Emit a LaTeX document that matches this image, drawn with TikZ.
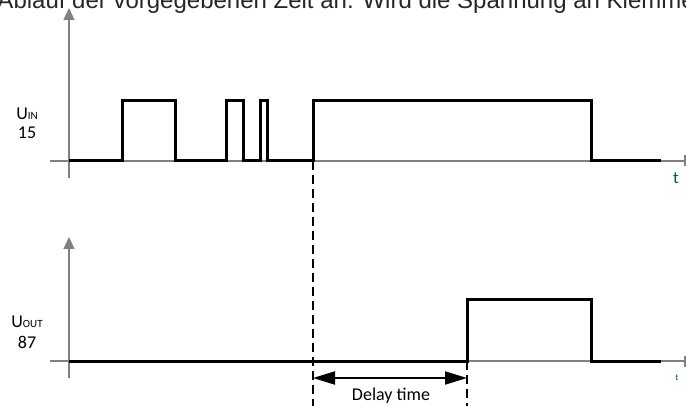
\documentclass[tikz,border=0pt]{standalone}
\usepackage{fontspec}
\setmainfont{Carlito}
\newfontfamily\introfont{Liberation Sans}
\usetikzlibrary{arrows.meta}
\definecolor{axisgray}{RGB}{128,128,128}
\definecolor{tgreen}{RGB}{0,96,48}

\begin{document}
\begin{tikzpicture}[x = 1pt, y = -1pt]
	\useasboundingbox (0, 0) rectangle (686, 406);

	% Styles for axes, signals and the delay marker
	\tikzset{
		axis/.style = {axisgray, line width = 1.2pt},
		axis arrow/.style = {axis, -{Triangle[length = 12pt, width = 11pt]}},
		axis end/.style = {axis, -{Bar[width = 11pt, line width = 2pt]}, shorten >= -1pt},
		signal/.style = {black, line width = 3pt, line join = miter},
		marker/.style = {black, line width = 1.4pt, dash pattern = on 9pt off 5pt},
		delay arrow/.style = {black, line width = 2pt, {Triangle[length = 22pt, width = 13pt]}-{Triangle[length = 22pt, width = 13pt]}},
		label/.style = {font = \fontsize{18}{20}\selectfont, inner sep = 0},
		tlabel/.style = {text = tgreen, font = \fontsize{17}{18}\selectfont, inner sep = 0}
	}

	% Cut-off line of text above the picture
	\begin{scope}
		\clip (0, 0) rectangle (686, 406);
		\node[anchor = base west, inner sep = 0, text = black!85,
			font = \introfont\fontsize{24}{28}\selectfont] (intro) at (-2.7, 8.5)
			{Ablauf der vorgegebenen Zeit an. Wird die Spannung an Klemme};
	\end{scope}

	% Define the axis points
	\coordinate (Y1a) at (69, 178);
	\coordinate (Y1b) at (69, 8);
	\coordinate (X1a) at (50, 161);
	\coordinate (X1b) at (685, 161);
	\coordinate (Y2a) at (69, 378);
	\coordinate (Y2b) at (69, 237);
	\coordinate (X2a) at (50, 361);
	\coordinate (X2b) at (685, 361);

	% Draw the axes
	\draw[axis arrow] (Y1a) -- (Y1b);
	\draw[axis end] (X1a) -- (X1b);
	\draw[axis arrow] (Y2a) -- (Y2b);
	\draw[axis end] (X2a) -- (X2b);

	% Axis labels
	\node[label] (uin) at (27, 114) {U{\fontsize{11}{12}\selectfont IN}};
	\node[label] (kl15) at (27, 133) {15};
	\node[label] (uout) at (27, 322) {U{\fontsize{11}{12}\selectfont OUT}};
	\node[label] (kl87) at (27, 342) {87};
	\node[tlabel] (t1) at (676, 178) {t};
	\node[tlabel, font = \fontsize{9}{10}\selectfont] (t2) at (677, 378) {t};

	% Input signal
	\draw[signal] (69, 161) -| (122, 101) -| (175, 161) -| (226, 101) -| (243, 161)
		-| (260, 101) -| (267, 161) -| (313, 101) -| (591, 161) -- (661, 161);

	% Output signal
	\draw[signal] (69, 361) -| (467, 300) -| (591, 361) -- (661, 361);

	% Dashed markers down to the bottom
	\coordinate (m1a) at (313, 161);
	\coordinate (m1b) at (313, 406);
	\coordinate (m2a) at (467, 361);
	\coordinate (m2b) at (467, 406);
	\draw[marker] (m1a) -- (m1b);
	\draw[marker] (m2a) -- (m2b);

	% Delay arrow
	\coordinate (d1) at (313, 378);
	\coordinate (d2) at (467, 378);
	\draw[delay arrow] (d1) -- (d2);
	\node[label] (delay) at (391, 396) {Delay time};
\end{tikzpicture}
\end{document}
